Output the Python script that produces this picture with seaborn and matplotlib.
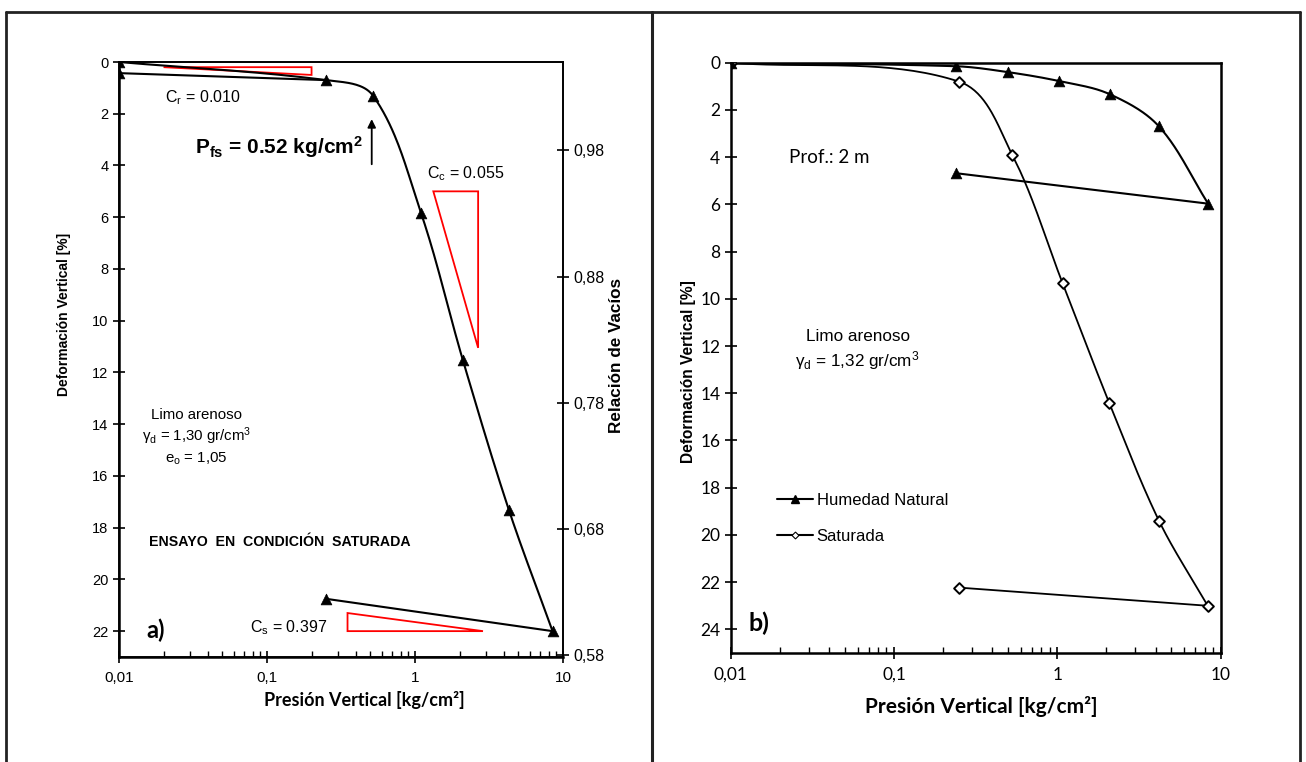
import numpy as np
import pandas as pd
import matplotlib
matplotlib.use("Agg")
import matplotlib.pyplot as plt
import seaborn as sns
from matplotlib.lines import Line2D
from matplotlib.patches import Polygon
from matplotlib.ticker import FixedLocator, FuncFormatter, LogLocator, NullFormatter

# ---------------- data ----------------
# panel a) ensayo saturado
a_load_p = [0.01, 0.25, 0.52, 1.1, 2.1, 4.3, 8.5]
a_load_d = [0.0, 0.7, 1.3, 5.85, 11.5, 17.3, 22.0]
a_unload_p = [8.5, 0.25]
a_unload_d = [22.0, 20.75]
a_reload_p = [0.01, 0.25]
a_reload_d = [0.43, 0.7]
e0 = 1.05
e_ticks = [0.58, 0.68, 0.78, 0.88, 0.98]

# red construction triangles (Cr, Cc, Cs)
tri_cr_p = [0.02, 0.2, 0.2]
tri_cr_d = [0.2, 0.2, 0.5]
tri_cc_p = [1.33, 2.67, 2.67]
tri_cc_d = [5.0, 5.0, 11.05]
tri_cs_p = [0.35, 0.35, 2.88]
tri_cs_d = [21.3, 22.0, 22.0]

# panel b)
hum_p = [0.01, 0.24, 0.50, 1.03, 2.09, 4.2, 8.4]
hum_d = [0.0, 0.15, 0.40, 0.78, 1.33, 2.7, 5.97]
hum_unload_p = [8.4, 0.24]
hum_unload_d = [5.97, 4.68]
sat_p = [0.01, 0.25, 0.53, 1.08, 2.08, 4.2, 8.35]
sat_d = [0.0, 0.8, 3.9, 9.35, 14.4, 19.4, 23.0]
sat_unload_p = [8.35, 0.25]
sat_unload_d = [23.0, 22.23]

x_ticks = [0.01, 0.1, 1, 10]
x_ticklabels = ["0,01", "0,1", "1", "10"]

# ---------------- style ----------------
sns.set_theme(style="ticks")
plt.rcParams['font.family'] = ['Liberation Sans', 'DejaVu Sans']
plt.rcParams['mathtext.fontset'] = 'custom'
plt.rcParams['mathtext.rm'] = 'Liberation Sans'
plt.rcParams['mathtext.it'] = 'Liberation Sans:italic'
plt.rcParams['mathtext.bf'] = 'Liberation Sans:bold'
for k in ['text.color', 'axes.labelcolor', 'xtick.color', 'ytick.color', 'axes.edgecolor']:
    plt.rcParams[k] = 'black'

fig = plt.figure(figsize=(13.06, 7.62), dpi=100)
W, H = 1306, 762


def px_axes(l, t, r, b):
    return fig.add_axes([l / W, 1 - b / H, (r - l) / W, (b - t) / H])


def smooth(ax, xs, ys, n=40):
    """Smoothed line drawn through the data points (Bezier in display space,
    tangents along neighbour chords, handle length scaled to each segment)."""
    P = ax.transData.transform(np.column_stack([xs, ys]))
    m = len(P)
    tang = np.zeros_like(P)
    for i in range(m):
        a = P[max(i - 1, 0)]
        b = P[min(i + 1, m - 1)]
        v = b - a
        tang[i] = v / np.hypot(*v)
    out = []
    t = np.linspace(0, 1, n)[:, None]
    for i in range(m - 1):
        p1, p2 = P[i], P[i + 1]
        L = np.hypot(*(p2 - p1)) / 3
        c1 = p1 + tang[i] * L
        c2 = p2 - tang[i + 1] * L
        seg = (1 - t) ** 3 * p1 + 3 * (1 - t) ** 2 * t * c1 + 3 * (1 - t) * t ** 2 * c2 + t ** 3 * p2
        out.append(seg if i == 0 else seg[1:])
    d = ax.transData.inverted().transform(np.vstack(out))
    return pd.DataFrame({"p": d[:, 0], "d": d[:, 1]})


def setup_x(ax, fs, family):
    ax.set_xscale('log')
    ax.set_xlim(0.01, 10)
    ax.set_xticks(x_ticks)
    ax.set_xticklabels(x_ticklabels, fontsize=fs, family=family)
    ax.xaxis.set_minor_locator(LogLocator(base=10, subs=np.arange(2, 10)))
    ax.xaxis.set_minor_formatter(NullFormatter())
    ax.tick_params(axis='x', which='major', direction='inout', length=8, width=1.2, bottom=True, pad=6)
    ax.tick_params(axis='x', which='minor', direction='in', length=4, width=1.0, bottom=True)


comma = FuncFormatter(lambda v, p: f"{v:g}".replace('.', ','))

# ================= panel a =================
axa = px_axes(119, 62, 563, 657)
setup_x(axa, 11, ['Liberation Sans'])
axa.set_ylim(23, 0)
axa.set_yticks(np.arange(0, 23, 2))
axa.tick_params(axis='y', which='major', direction='inout', length=8, width=1.2, left=True, labelsize=10.5)
for s in ['left', 'bottom']:
    axa.spines[s].set_linewidth(1.8)
for s in ['top', 'right']:
    axa.spines[s].set_linewidth(1.2)

ca = smooth(axa, a_load_p, a_load_d)
sns.lineplot(data=ca, x="p", y="d", sort=False, estimator=None, color='black', lw=1.5, ax=axa)
sns.lineplot(x=a_reload_p, y=a_reload_d, sort=False, estimator=None, color='black', lw=1.5, ax=axa)
sns.lineplot(x=a_unload_p, y=a_unload_d, sort=False, estimator=None, color='black', lw=1.5, ax=axa)
sns.scatterplot(x=a_load_p + a_unload_p[1:] + a_reload_p[:1], y=a_load_d + a_unload_d[1:] + a_reload_d[:1],
                marker='^', s=60, color='black', edgecolor='black', linewidth=0.5, ax=axa, zorder=4)

for tp, td in [(tri_cr_p, tri_cr_d), (tri_cc_p, tri_cc_d), (tri_cs_p, tri_cs_d)]:
    axa.add_patch(Polygon(np.column_stack([tp, td]), closed=True, fill=False, edgecolor='red', lw=1.3))

axa.text(0.0205, 1.39, r"C$_\mathrm{r}$ = 0.010", fontsize=11.5, va='center', ha='left')
axa.text(1.2, 4.3, r"C$_\mathrm{c}$ = 0.055", fontsize=11.5, va='center', ha='left')
axa.text(0.077, 21.87, r"C$_\mathrm{s}$ = 0.397", fontsize=11.5, va='center', ha='left')
axa.text(0.0326, 3.3, r"P$_\mathbf{fs}$ = 0.52 kg/cm$^\mathbf{2}$", fontsize=15, fontweight='bold',
         va='center', ha='left')
axa.annotate("", xy=(0.51, 2.1), xytext=(0.51, 4.06),
             arrowprops=dict(arrowstyle='-|>', color='black', lw=1.3, mutation_scale=12))
axa.text(0.0335, 14.5, "Limo arenoso\n" r"γ$_\mathrm{d}$ = 1,30 gr/cm$^3$" "\n" r"e$_\mathrm{o}$ = 1,05",
         fontsize=10.8, ha='center', va='center', linespacing=1.25)
axa.text(0.016, 18.55, "ENSAYO  EN  CONDICIÓN  SATURADA", fontsize=10.2, fontweight='bold',
         ha='left', va='center')
axa.text(0.0152, 21.95, "a)", fontsize=17, fontweight='bold', family=['Lato', 'DejaVu Sans'],
         ha='left', va='center')

axa.set_ylabel("Deformación Vertical [%]", fontsize=10, fontweight='bold', va='center')
axa.yaxis.set_label_coords(-0.124, 0.575)
axa.set_xlabel("Presión Vertical [kg/cm²]", fontsize=13, fontweight='bold', family=['Lato', 'DejaVu Sans'],
               va='center')
axa.xaxis.set_label_coords(0.552, -0.072)

axe = axa.twinx()
axe.set_ylim(e0 - (1 + e0) * 23 / 100, e0)
axe.set_yticks(e_ticks)
axe.yaxis.set_major_formatter(comma)
axe.tick_params(axis='y', direction='inout', length=8, width=1.2, right=True, labelsize=11.5)
axe.spines['right'].set_linewidth(1.2)
axe.set_ylabel("Relación de Vacíos", fontsize=12.3, fontweight='bold', va='center', rotation=90)
axe.yaxis.set_label_coords(1.121, 0.507)
axe.grid(False)
axa.yaxis.set_major_formatter(FuncFormatter(lambda v, p: f"{v:g}"))

# ================= panel b =================
axb = px_axes(730.7, 62.7, 1220.5, 653)
setup_x(axb, 12.5, ['Lato', 'DejaVu Sans'])
axb.set_ylim(25, 0)
axb.set_yticks(np.arange(0, 25, 2))
axb.set_yticklabels([str(v) for v in range(0, 25, 2)], fontsize=12.5, family=['Lato', 'DejaVu Sans'])
axb.tick_params(axis='y', which='major', direction='inout', length=8, width=1.2, left=True)
for s in axb.spines.values():
    s.set_linewidth(1.8)

ch = smooth(axb, hum_p, hum_d)
cs = smooth(axb, sat_p, sat_d)
sns.lineplot(data=ch, x="p", y="d", sort=False, estimator=None, color='black', lw=1.5, ax=axb)
sns.lineplot(x=hum_unload_p, y=hum_unload_d, sort=False, estimator=None, color='black', lw=1.5, ax=axb)
sns.lineplot(data=cs, x="p", y="d", sort=False, estimator=None, color='black', lw=1.3, ax=axb)
sns.lineplot(x=sat_unload_p, y=sat_unload_d, sort=False, estimator=None, color='black', lw=1.3, ax=axb)
sns.scatterplot(x=sat_p + sat_unload_p[1:], y=sat_d + sat_unload_d[1:], marker='D', s=30,
                color='white', edgecolor='black', linewidth=1.4, ax=axb, zorder=4)
sns.scatterplot(x=hum_p + hum_unload_p[1:], y=hum_d + hum_unload_d[1:], marker='^', s=60,
                color='black', edgecolor='black', linewidth=0.5, ax=axb, zorder=5)

handles = [Line2D([], [], color='black', lw=1.5, marker='^', markersize=6),
           Line2D([], [], color='black', lw=1.5, marker='D', markersize=3.5, markerfacecolor='white',
                  markeredgewidth=0.8)]
axb.legend(handles, ["Humedad Natural", "Saturada"], loc='upper left', bbox_to_anchor=(0.094, 0.2716),
           frameon=False, fontsize=12, borderpad=0, borderaxespad=0, handlelength=2.2,
           handletextpad=0.2, labelspacing=1.28)

axb.text(0.0227, 4.0, "Prof.: 2 m", fontsize=13.5, family=['Lato', 'DejaVu Sans'], ha='left', va='center')
axb.text(0.060, 12.2, "Limo arenoso\n" r"γ$_\mathrm{d}$ = 1,32 gr/cm$^3$", fontsize=12.3,
         ha='center', va='center', linespacing=1.3)
axb.text(0.0128, 23.75, "b)", fontsize=18, fontweight='bold', family=['Lato', 'DejaVu Sans'],
         ha='left', va='center')

axb.set_ylabel("Deformación Vertical [%]", fontsize=11.2, fontweight='bold', va='center')
axb.yaxis.set_label_coords(-0.087, 0.476)
axb.set_xlabel("Presión Vertical [kg/cm²]", fontsize=15, fontweight='bold', family=['Lato', 'DejaVu Sans'],
               va='center')
axb.xaxis.set_label_coords(0.512, -0.09)

# ---------------- outer frame ----------------
def fline(x0, y0, x1, y1, lw=2.0):
    fig.add_artist(Line2D([x0 / W, x1 / W], [1 - y0 / H, 1 - y1 / H], transform=fig.transFigure,
                          color='#222222', lw=lw))

fline(6, 12, 1300, 12)
fline(6, 12, 6, 762)
fline(652, 12, 652, 762, lw=2.2)
fline(1300, 12, 1300, 762)

fig.savefig("out.png", dpi=100)
